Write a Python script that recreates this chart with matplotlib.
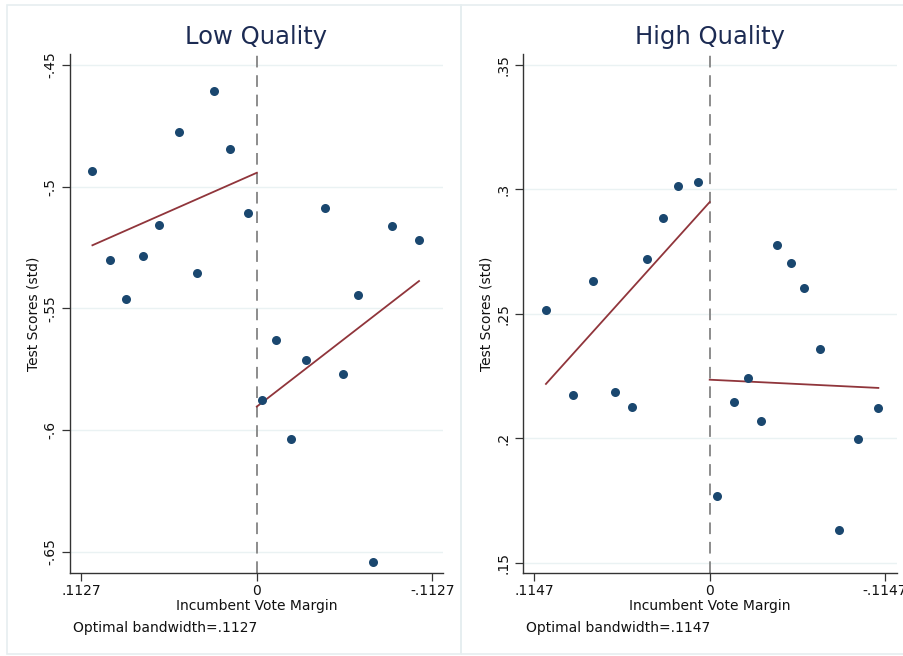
import matplotlib.pyplot as plt
from matplotlib.patches import Rectangle

# Binned means of test scores by incumbent vote margin
low_x = [0.1056, 0.0944, 0.0841, 0.0730, 0.0629, 0.0503, 0.0381, 0.0272, 0.0173, 0.0058,
         -0.0032, -0.0124, -0.0220, -0.0315, -0.0437, -0.0554, -0.0650, -0.0745, -0.0871, -0.1042]
low_y = [-0.4934, -0.5301, -0.5462, -0.5285, -0.5159, -0.4774, -0.5355, -0.4608, -0.4845, -0.5110,
         -0.5878, -0.5632, -0.6038, -0.5711, -0.5089, -0.5770, -0.5447, -0.6544, -0.5162, -0.5219]
# Local linear fits on each side of the cutoff (endpoints)
low_fit_left_x = [0.1056, 0.0]
low_fit_left_y = [-0.5241, -0.4943]
low_fit_right_x = [0.0, -0.1042]
low_fit_right_y = [-0.5904, -0.5388]

high_x = [0.1071, 0.0892, 0.0761, 0.0621, 0.0506, 0.0408, 0.0305, 0.0207, 0.0078,
          -0.0048, -0.0159, -0.0249, -0.0336, -0.0440, -0.0532, -0.0619, -0.0723, -0.0848, -0.0968, -0.1099]
high_y = [0.2514, 0.2172, 0.2633, 0.2184, 0.2124, 0.2721, 0.2885, 0.3015, 0.3030,
          0.1767, 0.2144, 0.2240, 0.2070, 0.2776, 0.2704, 0.2602, 0.2358, 0.1630, 0.1997, 0.2120]
high_fit_left_x = [0.1071, 0.0]
high_fit_left_y = [0.2218, 0.2949]
high_fit_right_x = [0.0, -0.1103]
high_fit_right_y = [0.2235, 0.2202]

low_yticks = [-0.45, -0.5, -0.55, -0.6, -0.65]
low_yticklabels = ['-.45', '-.5', '-.55', '-.6', '-.65']
high_yticks = [0.35, 0.3, 0.25, 0.2, 0.15]
high_yticklabels = ['.35', '.3', '.25', '.2', '.15']

MARKER = '#1a476f'
FITLINE = '#90353b'
TITLE = '#1c2b53'
GRID = '#eaf2f3'
FRAME = '#e6eef0'

W, H = 904, 656
fig = plt.figure(figsize=(W / 100, H / 100), dpi=100)
fig.patch.set_facecolor('white')

# light frames round each subgraph
for x0, x1 in [(7, 461), (461, 916)]:
    fig.patches.append(Rectangle((x0 / W, 1 - 654 / H), (x1 - x0) / W, 649 / H,
                                 transform=fig.transFigure, fill=False,
                                 edgecolor=FRAME, linewidth=1.2))


def rd_panel(left, right, title, xs, ys, fl_x, fl_y, fr_x, fr_y, bw, xlim, ylim, yticks, yticklabels):
    ax = fig.add_axes([left / W, 1 - 573.3 / H, (right - left) / W, (573.3 - 54) / H])
    ax.set_xlim(*xlim)
    ax.set_ylim(*ylim)
    for yt in yticks:
        ax.axhline(yt, color=GRID, linewidth=1.0, zorder=0)
    ax.axvline(0, color='#8c8c8c', linewidth=1.4, linestyle=(0, (6, 4)), zorder=1)
    ax.plot(fl_x, fl_y, color=FITLINE, linewidth=1.3, zorder=2)
    ax.plot(fr_x, fr_y, color=FITLINE, linewidth=1.3, zorder=2)
    ax.plot(xs, ys, 'o', color=MARKER, markersize=6.5, markeredgewidth=0, zorder=3)

    ax.set_xticks([bw, 0, -bw])
    ax.set_xticklabels(['.' + f'{bw:.4f}'.split('.')[1], '0', '-.' + f'{bw:.4f}'.split('.')[1]])
    ax.set_yticks(yticks)
    ax.set_yticklabels(yticklabels)
    ax.tick_params(axis='both', direction='out', length=6, width=0.9, color='#333333',
                   labelsize=10, labelcolor='#111111')
    ax.tick_params(axis='x', pad=1.5)
    ax.tick_params(axis='y', pad=3, labelrotation=90)
    for lab in ax.get_yticklabels():
        lab.set_va('center')

    for s in ['top', 'right']:
        ax.spines[s].set_visible(False)
    for s in ['left', 'bottom']:
        ax.spines[s].set_color('#333333')
        ax.spines[s].set_linewidth(1.0)

    ax.set_title(title, fontsize=17.5, color=TITLE, pad=7)
    ax.set_xlabel('Incumbent Vote Margin', fontsize=10, color='#111111', labelpad=1)
    ax.set_ylabel('Test Scores (std)', fontsize=10, color='#111111', labelpad=2.5)
    fig.text((left + 3) / W, 1 - 632 / H, 'Optimal bandwidth=.' + f'{bw:.4f}'.split('.')[1],
             fontsize=10, color='#111111', va='baseline', ha='left')
    return ax


rd_panel(70, 443, 'Low Quality', low_x, low_y,
         low_fit_left_x, low_fit_left_y, low_fit_right_x, low_fit_right_y,
         0.1127, (0.1200, -0.1196), (-0.6589, -0.4455), low_yticks, low_yticklabels)

rd_panel(523.3, 896.7, 'High Quality', high_x, high_y,
         high_fit_left_x, high_fit_left_y, high_fit_right_x, high_fit_right_y,
         0.1147, (0.1219, -0.1223), (0.1457, 0.3544), high_yticks, high_yticklabels)

fig.savefig('out.png', dpi=100)
